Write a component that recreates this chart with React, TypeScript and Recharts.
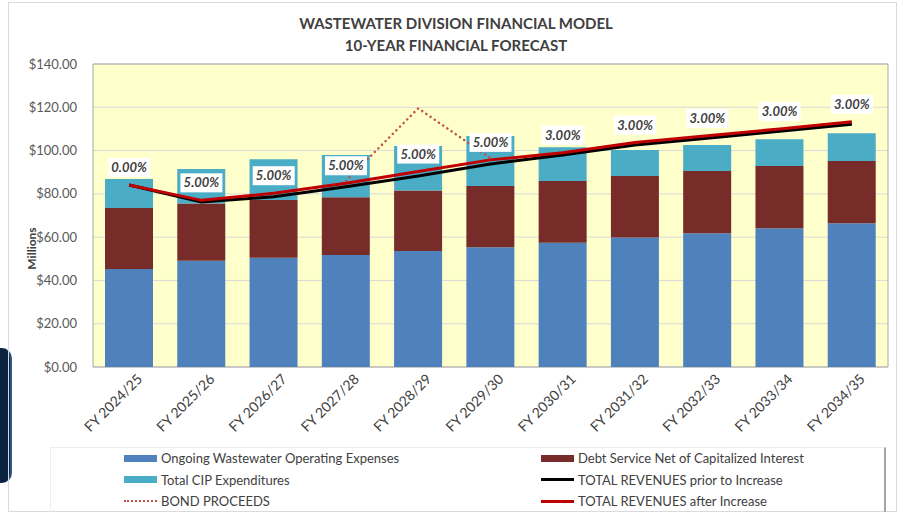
import * as React from "react";
import {
  ComposedChart,
  Bar,
  Line,
  XAxis,
  YAxis,
  CartesianGrid,
  LabelList,
} from "recharts";

const categories = [
  "FY 2024/25",
  "FY 2025/26",
  "FY 2026/27",
  "FY 2027/28",
  "FY 2028/29",
  "FY 2029/30",
  "FY 2030/31",
  "FY 2031/32",
  "FY 2032/33",
  "FY 2033/34",
  "FY 2034/35",
];
const operating = [45.3, 49.1, 50.5, 51.8, 53.6, 55.3, 57.4, 59.8, 61.8, 64.1, 66.4];
const debtService = [28.2, 26.5, 26.7, 26.6, 27.9, 28.3, 28.5, 28.5, 28.8, 28.8, 28.8];
const cipSpend = [13.4, 15.9, 18.8, 19.6, 20.6, 23.1, 15.6, 12.0, 12.0, 12.3, 12.8];
const revenuePrior = [84.1, 76.2, 78.7, 83.3, 88.3, 93.8, 98.0, 102.6, 105.7, 108.9, 112.2];
const revenueAfter = [84.1, 77.0, 80.3, 84.9, 90.3, 95.7, 99.0, 103.7, 106.8, 110.0, 113.3];
const bondProceeds = [null, null, null, 86.0, 119.5, 96.5, null, null, null, null, null];
const rateIncrease = ["0.00%", "5.00%", "5.00%", "5.00%", "5.00%", "5.00%", "3.00%", "3.00%", "3.00%", "3.00%", "3.00%"];
const yTicks = [0, 20, 40, 60, 80, 100, 120, 140];

const data = categories.map((name, i) => ({
  name,
  operating: operating[i],
  debt: debtService[i],
  cip: cipSpend[i],
  prior: revenuePrior[i],
  after: revenueAfter[i],
  bond: bondProceeds[i],
  rate: rateIncrease[i],
}));

const FONT = "Lato, 'Open Sans', sans-serif";
const TEXT = "#404040";

const legendItems = [
  { label: "Ongoing Wastewater Operating Expenses", color: "#4F81BD", kind: "bar" },
  { label: "Debt Service Net of Capitalized Interest", color: "#772C2A", kind: "bar" },
  { label: "Total CIP Expenditures", color: "#4BACC6", kind: "bar" },
  { label: "TOTAL REVENUES prior to Increase", color: "#000000", kind: "line" },
  { label: "BOND PROCEEDS", color: "#C0504D", kind: "dot" },
  { label: "TOTAL REVENUES after Increase", color: "#C00000", kind: "line" },
];

const XTick = (props: any) => {
  const { x, y, payload } = props;
  return (
    <g transform={`translate(${x + 14},${y + 13})`}>
      <text textAnchor="end" transform="rotate(-45)" fontSize={14} fill={TEXT} fontFamily={FONT}>
        {payload.value}
      </text>
    </g>
  );
};

const RateLabel = (props: any) => {
  const { x, y, value } = props;
  if (x == null || y == null) return null;
  return (
    <g>
      <rect x={x - 21} y={y - 27} width={42} height={19} fill="#ffffff" />
      <text
        x={x}
        y={y - 13}
        textAnchor="middle"
        fontSize={13}
        fontWeight={700}
        fontStyle="italic"
        fill={TEXT}
        fontFamily={FONT}
      >
        {value}
      </text>
    </g>
  );
};

const MillionsLabel = (props: any) => {
  const vb = props.viewBox || {};
  const cx = 31;
  const cy = (vb.y || 0) + (vb.height || 0) / 2 + 33;
  return (
    <text
      x={cx}
      y={cy}
      transform={`rotate(-90 ${cx} ${cy})`}
      textAnchor="middle"
      dominantBaseline="central"
      fontSize={12}
      fontWeight={700}
      fill={TEXT}
      fontFamily={FONT}
    >
      Millions
    </text>
  );
};

function Swatch({ color, kind }: { color: string; kind: string }) {
  if (kind === "bar") return <div style={{ width: 33, height: 7, background: color }} />;
  if (kind === "line") return <div style={{ width: 33, height: 3, background: color }} />;
  return <div style={{ width: 33, height: 0, borderTop: `2px dotted ${color}` }} />;
}

export default function App() {
  return (
    <div style={{ position: "fixed", left: 0, top: 0, width: 900, height: 518, background: "#fff", overflow: "hidden" }}>
      <div
        style={{
          position: "absolute",
          left: 0,
          top: 348,
          width: 10,
          height: 135,
          background: "#0C2340",
          borderRight: "2px solid #2E5A8A",
          borderRadius: "0 10px 10px 0",
        }}
      />
      <div style={{ position: "absolute", left: 8, top: 2, width: 889, height: 510, border: "1px solid #DADADA", boxSizing: "border-box" }} />
      <div
        style={{
          position: "absolute",
          left: 0,
          width: 900,
          top: 12,
          textAlign: "center",
          fontFamily: FONT,
          fontWeight: 700,
          fontSize: 15,
          lineHeight: "22px",
          color: TEXT,
          paddingLeft: 12,
          boxSizing: "border-box",
        }}
      >
        <div>WASTEWATER DIVISION FINANCIAL MODEL</div>
        <div>10-YEAR FINANCIAL FORECAST</div>
      </div>
      <div style={{ position: "absolute", left: 0, top: 0 }}>
        <ComposedChart
          width={900}
          height={518}
          data={data}
          margin={{ top: 64, right: 12, bottom: 71, left: 0 }}
          barSize={48}
        >
          <CartesianGrid vertical={false} stroke="#D9D9D9" fill="#FFFFCC" />
          <CartesianGrid
            stroke="#A6A6A6"
            horizontalCoordinatesGenerator={({ offset }: any) => [offset.top, offset.top + offset.height]}
            verticalCoordinatesGenerator={({ offset }: any) => [offset.left, offset.left + offset.width]}
          />
          <XAxis
            dataKey="name"
            axisLine={false}
            tickLine={false}
            tickSize={0}
            tickMargin={0}
            interval={0}
            height={80}
            tick={<XTick />}
          />
          <YAxis
            domain={[0, 140]}
            ticks={yTicks}
            width={93}
            axisLine={false}
            tickLine={false}
            tickSize={6}
            tickMargin={10}
            tickFormatter={(v: number) => `$${v.toFixed(2)}`}
            tick={{ fontSize: 13, fill: "#595959", fontFamily: FONT }}
            label={<MillionsLabel />}
          />
          <Bar dataKey="operating" stackId="a" fill="#4F81BD" isAnimationActive={false} />
          <Bar dataKey="debt" stackId="a" fill="#772C2A" isAnimationActive={false} />
          <Bar dataKey="cip" stackId="a" fill="#4BACC6" isAnimationActive={false} />
          <Line
            dataKey="prior"
            stroke="#000000"
            strokeWidth={3}
            dot={false}
            activeDot={false}
            isAnimationActive={false}
          />
          <Line
            dataKey="bond"
            stroke="#C0504D"
            strokeWidth={2.5}
            strokeDasharray="0.1 5"
            strokeLinecap="round"
            dot={false}
            activeDot={false}
            connectNulls={false}
            isAnimationActive={false}
          />
          <Line
            dataKey="after"
            stroke="#C00000"
            strokeWidth={3}
            dot={false}
            activeDot={false}
            isAnimationActive={false}
          >
            <LabelList dataKey="rate" content={<RateLabel />} />
          </Line>
        </ComposedChart>
      </div>
      <div
        style={{
          position: "absolute",
          left: 50,
          top: 447,
          width: 836,
          height: 65,
          borderTop: "1px solid #EEEEEE",
          borderLeft: "1px solid #EEEEEE",
          borderRight: "2px solid #A6A6A6",
          boxSizing: "border-box",
        }}
      />
      {legendItems.map((item, i) => {
        const col = i % 2;
        const row = Math.floor(i / 2);
        return (
          <div
            key={item.label}
            style={{
              position: "absolute",
              left: col === 0 ? 124 : 541,
              top: 448 + row * 21.5,
              height: 20,
              display: "flex",
              alignItems: "center",
              gap: 4,
              fontFamily: FONT,
              fontSize: 13,
              color: TEXT,
              whiteSpace: "nowrap",
            }}
          >
            <Swatch color={item.color} kind={item.kind} />
            <span>{item.label}</span>
          </div>
        );
      })}
    </div>
  );
}
